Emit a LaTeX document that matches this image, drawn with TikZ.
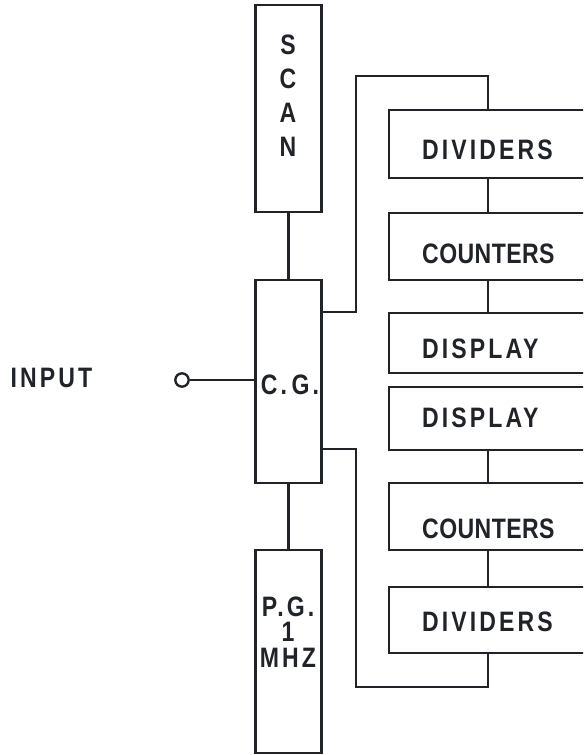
\documentclass[tikz,border=0pt]{standalone}
\usepackage{fontspec}
\setmainfont{Liberation Sans}
\newfontfamily\blkfont{Liberation Sans}[FakeStretch=0.82,LetterSpace=11]
\usetikzlibrary{calc}
\definecolor{ink}{HTML}{202428}
\tikzset{blk/.style={draw=ink,line width=2.4pt,inner sep=0pt},
  wire/.style={draw=ink,line width=2.4pt},
  lbl/.style={text=ink,inner sep=0pt,font=\blkfont\bfseries\fontsize{24}{29}\selectfont}}

\begin{document}
\begin{tikzpicture}[x=.3mm,y=-.3mm]
\useasboundingbox (0,0) rectangle (583,755);\clip (0,0) rectangle (583,755);
% left column
\node[blk,minimum width=19.8mm,minimum height=62.1mm] (scan) at (288.5,108.5) {};
\node[blk,minimum width=19.8mm,minimum height=60.9mm] (cg) at (288.5,381.5) {};
\node[blk,minimum width=19.8mm,minimum height=60.9mm] (pg) at (288.5,651.5) {};
\node[lbl,align=center] (scan-t) at (288,96) {S\\C\\A\\N};
\node[lbl] (cg-t) at (290,385) {C.\,G.};
\node[lbl,align=center] (pg-t) at (288,632) {P.G.\\[-7pt]1\\[-7pt]MHZ};
\draw[wire] (scan.south) -- (cg.north);\draw[wire] (cg.south) -- (pg.north);
% input
\node[draw=ink,line width=2pt,circle,minimum size=4mm,inner sep=0pt] (in) at (182,380) {};
\node[lbl] (in-t) at (51.5,378) {INPUT};
\draw[wire] (in) -- (in -| cg.west);
% right column
\foreach \nm/\yc/\hh/\ty/\txt in {dv1/144/20.4/150/DIVIDERS,ct1/246.5/20.1/254/{\addfontfeature{LetterSpace=1.5}COUNTERS},ds1/343/18/349/DISPLAY,ds2/418.5/18.9/418/DISPLAY,ct2/516.5/20.1/529/{\addfontfeature{LetterSpace=1.5}COUNTERS},dv2/620/19.8/622/DIVIDERS}{
  \node[blk,minimum width=63.3mm,minimum height=\hh mm] (\nm) at (494.5,\yc) {};
  \node[lbl,anchor=west] (\nm-t) at (422,\ty) {\txt};}
\coordinate (bus) at (488,0);\coordinate (tapA) at (356,312);\coordinate (topA) at (356,76);
\coordinate (tapB) at (356,449);\coordinate (botB) at (356,687);
\draw[wire] (cg.east |- tapA) -| (topA) -| (dv1.north -| bus);
\draw[wire] (cg.east |- tapB) -| (botB) -| (dv2.south -| bus);
\foreach \a/\b in {dv1/ct1,ct1/ds1,ds2/ct2,ct2/dv2} \draw[wire] (\a.south -| bus) -- (\b.north -| bus);
\end{tikzpicture}
\end{document}
